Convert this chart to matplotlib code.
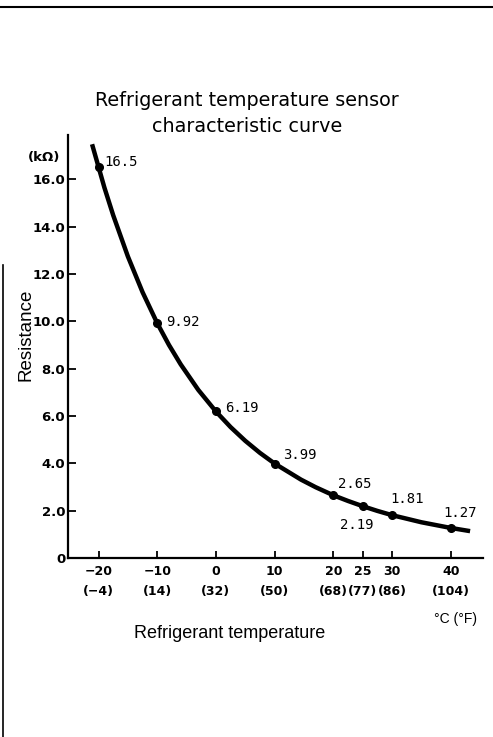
import matplotlib
matplotlib.use("Agg")
import matplotlib.pyplot as plt
from matplotlib.lines import Line2D

# ---- data ----
temps_c = [-20, -10, 0, 10, 20, 25, 30, 40]
resistance_kohm = [16.5, 9.92, 6.19, 3.99, 2.65, 2.19, 1.81, 1.27]
point_labels = ["16.5", "9.92", "6.19", "3.99", "2.65", "2.19", "1.81", "1.27"]

# points
curve_t = [-21.1, -19, -17.5, -15, -12.5, -10, -8, -6, -3, 0, 2.5, 5, 7.5, 10,
           14.5, 17, 20, 22.5, 25, 27.5, 30, 35, 40, 43.3]
curve_r = [17.48, 15.65, 14.48, 12.74, 11.23, 9.92, 9.00, 8.18, 7.10, 6.19, 5.53,
           4.95, 4.44, 3.99, 3.31, 2.99, 2.65, 2.41, 2.19, 1.99, 1.81, 1.51, 1.27, 1.135]

x_ticks = [-20, -10, 0, 10, 20, 25, 30, 40]
x_tick_labels = ["\u221220\n(\u22124)", "\u221210\n(14)", "0\n(32)", "10\n(50)",
                 "20\n(68)", "25\n(77)", "30\n(86)", "40\n(104)"]
y_ticks = [0, 2, 4, 6, 8, 10, 12, 14, 16]
y_tick_labels = ["0", "2.0", "4.0", "6.0", "8.0", "10.0", "12.0", "14.0", "16.0"]

# label offsets in points (dx, dy), horizontal alignment left
label_offsets = [(4.3, 4.0), (6.5, 1.1), (6.5, 2.2), (6.2, 6.2), (3.6, 7.9),
                 (-16.6, -13.7), (-1.0, 11.5), (-5.4, 10.5)]

W, H = 493, 737
fig = plt.figure(figsize=(W / 100, H / 100), dpi=100)
fig.patch.set_facecolor("white")

ax = fig.add_axes([68 / W, (H - 558) / H, (483 - 68) / W, (558 - 135) / H])
ax.set_xlim(-25.2, 45.5)
ax.set_ylim(0, 17.87)

ax.plot(curve_t, curve_r, color="black", lw=3.2, solid_capstyle="butt",
        solid_joinstyle="round", zorder=3)
ax.plot(temps_c, resistance_kohm, "o", color="black", ms=5.5, zorder=4)

for t, r, lab, (dx, dy) in zip(temps_c, resistance_kohm, point_labels, label_offsets):
    ax.annotate(lab, (t, r), xytext=(dx, dy), textcoords="offset points",
                ha="left", va="center", fontsize=10, family="DejaVu Sans Mono")

for s in ["top", "right"]:
    ax.spines[s].set_visible(False)
for s in ["left", "bottom"]:
    ax.spines[s].set_linewidth(1.6)

ax.set_xticks(x_ticks)
ax.set_xticklabels(x_tick_labels, fontsize=9, family="DejaVu Sans", fontweight="bold",
                   linespacing=1.7)
ax.set_yticks(y_ticks)
ax.set_yticklabels(y_tick_labels, fontsize=9.5, family="DejaVu Sans", fontweight="bold")
ax.tick_params(axis="x", direction="in", length=5, width=1.3, pad=5)
ax.tick_params(axis="y", direction="in", length=6, width=1.3, pad=2)

# texts
fig.text(247 / W, 1 - 100 / H, "Refrigerant temperature sensor", ha="center", va="center",
         fontsize=13.8, family="DejaVu Sans")
fig.text(247 / W, 1 - 127 / H, "characteristic curve", ha="center", va="center",
         fontsize=13.8, family="DejaVu Sans")
fig.text(230 / W, 1 - 633 / H, "Refrigerant temperature", ha="center", va="center",
         fontsize=13, family="Liberation Sans")
fig.text(456 / W, 1 - 619 / H, "\u00b0C (\u00b0F)", ha="center", va="center",
         fontsize=10, family="Liberation Sans")
fig.text(26 / W, 1 - 335 / H, "Resistance", ha="center", va="center", rotation=90,
         fontsize=13.5, family="Liberation Sans")
fig.text(44 / W, 1 - 158 / H, "(k\u03a9)", ha="center", va="center",
         fontsize=9.5, family="DejaVu Sans", fontweight="bold")

# scan border lines
fig.add_artist(Line2D([0, 1], [1 - 7 / H, 1 - 7 / H], color="black", lw=1.5,
                      transform=fig.transFigure))
fig.add_artist(Line2D([3 / W, 3 / W], [0, 1 - 265 / H], color="black", lw=1.2,
                      transform=fig.transFigure))

fig.savefig("out.png", dpi=100, facecolor="white")
